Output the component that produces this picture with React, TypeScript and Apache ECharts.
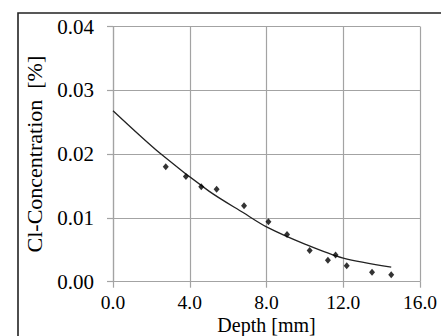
import React, { useEffect, useRef } from "react";
import * as echarts from "echarts";

const measuredDepth = [2.75, 3.8, 4.6, 5.4, 6.83, 8.1, 9.07, 10.25, 11.2, 11.6, 12.18, 13.5, 14.5];
const measuredConc = [0.018, 0.0165, 0.0149, 0.0145, 0.0119, 0.0094, 0.0074, 0.0049, 0.00335, 0.0042, 0.0025, 0.0015, 0.0011];

const fitDepth = [0, 2.5, 5.0, 6.8, 8.0, 10.0, 12.0, 14.5];
const fitConc = [0.0268, 0.02, 0.0142, 0.0108, 0.0086, 0.0059, 0.0037, 0.0023];

const xTickLabels = ["0.0", "4.0", "8.0", "12.0", "16.0"];
const yTickLabels = ["0.00", "0.01", "0.02", "0.03", "0.04"];

const FONT = "Liberation Serif";
const GRID = "#a3a3a3";

export default function App() {
  const ref = useRef<HTMLDivElement>(null);
  useEffect(() => {
    if (!ref.current) return;
    const chart = echarts.init(ref.current, undefined, { renderer: "svg" });
    chart.setOption({
      animation: false,
      backgroundColor: "#fff",
      textStyle: { fontFamily: FONT },
      grid: {
        left: 113,
        right: 21,
        top: 26.5,
        bottom: 54.3,
        containLabel: false,
        outerBoundsMode: "none",
      },
      xAxis: {
        type: "value",
        min: 0,
        max: 16,
        interval: 4,
        name: "Depth [mm]",
        nameLocation: "middle",
        nameGap: 33.3,
        nameMoveOverlap: false,
        nameTextStyle: { fontFamily: FONT, fontSize: 20, lineHeight: 20, color: "#000" },
        axisLine: { show: true, lineStyle: { color: GRID, width: 1.2 } },
        axisTick: { show: true, length: 6, lineStyle: { color: GRID, width: 1.2 } },
        splitLine: { show: true, lineStyle: { color: GRID, width: 1.2 } },
        axisLabel: {
          margin: 11,
          fontFamily: FONT,
          fontSize: 19.5,
          lineHeight: 19,
          color: "#000",
          formatter: (v: number) => xTickLabels[Math.round(v / 4)] ?? "",
        },
      },
      yAxis: {
        type: "value",
        min: 0,
        max: 0.04,
        interval: 0.01,
        name: "Cl-Concentration  [%]",
        nameLocation: "middle",
        nameGap: 68,
        nameRotate: 90,
        nameMoveOverlap: false,
        nameTextStyle: { fontFamily: FONT, fontSize: 22, color: "#000" },
        axisLine: { show: true, lineStyle: { color: GRID, width: 1.2 } },
        axisTick: { show: true, length: 6, lineStyle: { color: GRID, width: 1.2 } },
        splitLine: { show: true, lineStyle: { color: GRID, width: 1.2 } },
        axisLabel: {
          margin: 19,
          fontFamily: FONT,
          fontSize: 21,
          color: "#000",
          formatter: (v: number) => yTickLabels[Math.round(v / 0.01)] ?? "",
        },
      },
      graphic: [
        {
          type: "rect",
          shape: { x: 18, y: 13, width: 600, height: 500 },
          style: { fill: "none", stroke: "#222", lineWidth: 1.6 },
          z: 100,
        },
      ],
      series: [
        {
          type: "line",
          data: fitDepth.map((d, i) => [d, fitConc[i]]),
          smooth: 0.3,
          showSymbol: false,
          symbol: "none",
          lineStyle: { color: "#222", width: 1.3 },
          z: 3,
        },
        {
          type: "scatter",
          data: measuredDepth.map((d, i) => [d, measuredConc[i]]),
          symbol: "diamond",
          symbolSize: [6, 7],
          itemStyle: { color: "#000" },
          z: 4,
        },
      ],
    });
    return () => chart.dispose();
  }, []);
  return (
    <div
      ref={ref}
      style={{ position: "fixed", left: 0, top: 0, width: 441, height: 336, background: "#fff" }}
    />
  );
}
